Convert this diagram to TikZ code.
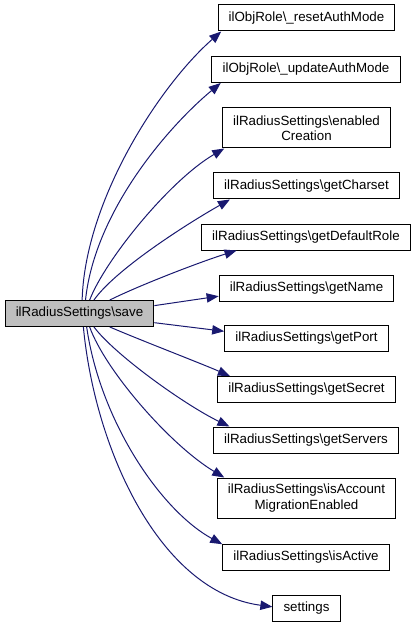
\documentclass[tikz,border=0pt]{standalone}
\usepackage{fontspec}
\setmainfont{Liberation Sans}
\usepackage{tikz}
\usetikzlibrary{arrows.meta}
\definecolor{edgeblue}{HTML}{191970}
\definecolor{rootgray}{HTML}{BFBFBF}

\begin{document}
\begin{tikzpicture}[
    x=0.75pt, y=-0.75pt,
    every node/.style={font=\fontsize{10}{11.5}\selectfont},
    fn/.style={draw=black, line width=0.75pt, fill=white, align=center, inner xsep=8pt, inner ysep=2pt, minimum height=19.5pt},
    root/.style={fn, fill=rootgray},
    call/.style={-{Triangle[length=9pt,width=7pt]}, line width=0.75pt, edgeblue}
]
    \useasboundingbox (0,0) rectangle (416,627);

    % Funzione chiamante
    \node[root] (save) at (79.5,313.5) {ilRadiusSettings\textbackslash save};

    % Funzioni chiamate
    \node[fn] (resetMode) at (306.5,18) {ilObjRole\textbackslash\_resetAuthMode};
    \node[fn] (updateMode) at (306,69.5) {ilObjRole\textbackslash\_updateAuthMode};
    \node[fn, minimum height=30pt] (enabledCr) at (306.5,128) {ilRadiusSettings\textbackslash enabled\\Creation};
    \node[fn] (charset) at (306.5,186) {ilRadiusSettings\textbackslash getCharset};
    \node[fn] (defRole) at (306,237) {ilRadiusSettings\textbackslash getDefaultRole};
    \node[fn] (getName) at (306.5,288.5) {ilRadiusSettings\textbackslash getName};
    \node[fn] (getPort) at (306.5,338.5) {ilRadiusSettings\textbackslash getPort};
    \node[fn] (getSecret) at (306.5,389.5) {ilRadiusSettings\textbackslash getSecret};
    \node[fn] (getServers) at (306,440) {ilRadiusSettings\textbackslash getServers};
    \node[fn, minimum height=30pt] (migration) at (306.5,498) {ilRadiusSettings\textbackslash isAccount\\MigrationEnabled};
    \node[fn] (isActive) at (306,557.5) {ilRadiusSettings\textbackslash isActive};
    \node[fn] (settings) at (306.5,608) {settings};

    % Chiamate verso l'alto
    \draw[call] (save.79) .. controls (85,200) and (160,85) .. (resetMode.189);
    \draw[call] (save.66) .. controls (95,210) and (170,125) .. (updateMode.189);
    \draw[call] (save.53) .. controls (105,260) and (170,180) .. (enabledCr.194);
    \draw[call] (save.43) .. controls (115,270) and (185,225) .. (charset.190);
    \draw[call] (save.24) .. controls (140,285) and (200,262) .. (defRole.191);
    \draw[call] (save.6) -- (getName.185);

    % Chiamate verso il basso
    \draw[call] (save.353) -- (getPort.175);
    \draw[call] (save.336) .. controls (140,340) and (200,363) .. (getSecret.170);
    \draw[call] (save.317) .. controls (115,355) and (185,405) .. (getServers.170);
    \draw[call] (save.307) .. controls (105,370) and (170,445) .. (migration.166);
    \draw[call] (save.298) .. controls (100,420) and (160,510) .. (isActive.171);
    \draw[call] (save.286) .. controls (95,450) and (160,592) .. (settings.178);

\end{tikzpicture}
\end{document}
